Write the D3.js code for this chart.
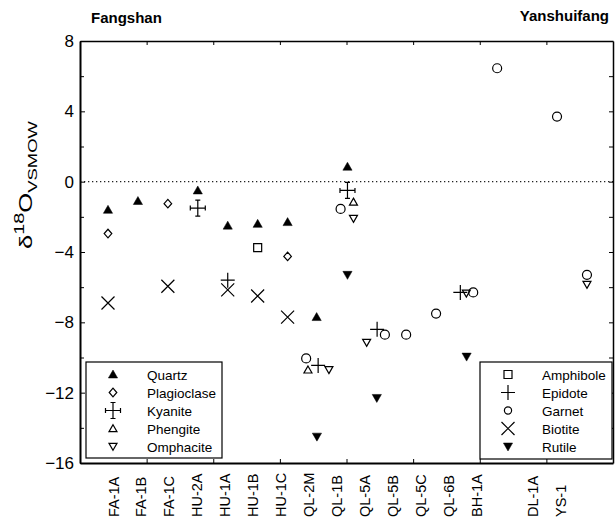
<!DOCTYPE html>
<html>
<head>
<meta charset="utf-8">
<script src="https://d3js.org/d3.v7.min.js"></script>
<style>
  body { margin: 0; background: #fff; }
  text { font-family: Arial, "Liberation Sans", sans-serif; fill: #000; }
  .axis path, .axis line { stroke: #000; fill: none; }
</style>
</head>
<body>
<svg id="chart" width="615" height="520"></svg>
<script>
// sample names along the bottom and their slot numbers
var samples = ["FA-1A","FA-1B","FA-1C","HU-2A","HU-1A","HU-1B","HU-1C","QL-2M",
               "QL-1B","QL-5A","QL-5B","QL-5C","QL-6B","BH-1A","DL-1A","YS-1"];
var samplePos = [1,2,3,4,5,6,7,8,9,10,11,12,13,14,16,17];

var yMajor = [8, 4, 0, -4, -8, -12, -16];
var yMinor = [6, 2, -2, -6, -10, -14];

// [slot (with small nudge as drawn), d18O]
var quartz      = [[1,-1.6],[2,-1.1],[4,-0.5],[5,-2.5],[6,-2.4],[7,-2.3],[7.97,-7.7],[9,0.85]];
var plagioclase = [[1,-2.95],[3,-1.25],[7,-4.25]];
var kyanite     = [[4,-1.5],[9,-0.5]];
var phengite    = [[7.68,-10.7],[9.2,-1.15]];
var omphacite   = [[8.38,-10.7],[9.2,-2.1],[9.64,-9.15],[12.97,-6.35],[17,-5.85]];
var amphibole   = [[6,-3.75]];
var epidote     = [[5,-5.6],[8.02,-10.45],[9.99,-8.4],[12.77,-6.3]];
var garnet      = [[7.62,-10.05],[8.77,-1.55],[10.25,-8.7],[10.96,-8.7],[11.96,-7.5],
                   [13.2,-6.3],[14,6.45],[16,3.7],[17,-5.3]];
var biotite     = [[1,-6.9],[3,-5.95],[5,-6.15],[6,-6.5],[7,-7.7]];
var rutile      = [[7.98,-14.5],[9,-5.3],[9.98,-12.3],[12.98,-9.95]];

var leftLegend = [
  {name:"Quartz", sym:"triUp", data:quartz},
  {name:"Plagioclase", sym:"diamond", data:plagioclase},
  {name:"Kyanite", sym:"kyanite", data:kyanite},
  {name:"Phengite", sym:"openUp", data:phengite},
  {name:"Omphacite", sym:"openDown", data:omphacite}
];
var rightLegend = [
  {name:"Amphibole", sym:"square", data:amphibole},
  {name:"Epidote", sym:"plus", data:epidote},
  {name:"Garnet", sym:"circle", data:garnet},
  {name:"Biotite", sym:"cross", data:biotite},
  {name:"Rutile", sym:"triDown", data:rutile}
];

var margin = {top: 41, left: 80},
    width = 533, height = 422;

var svg = d3.select("#chart");
var g = svg.append("g").attr("transform", "translate(" + margin.left + "," + margin.top + ")");

var x = d3.scaleLinear().domain([0.065, 17.87]).range([0, width]);
var y = d3.scaleLinear().domain([-16, 8]).range([height, 0]);
// sample labels were set a bit tighter than the points
var xLab = d3.scaleLinear().domain([1, 17]).range([113 - margin.left, 560 - margin.left]);

function symPath(type, small) {
  switch (type) {
    case "triUp":   return "M0,-4.5L4.6,3.5L-4.6,3.5Z";
    case "triDown": return "M0,4.5L4.6,-3.5L-4.6,-3.5Z";
    case "openUp":  return "M0,-3.8L4,3.2L-4,3.2Z";
    case "openDown":return "M0,3.8L4,-3.2L-4,-3.2Z";
    case "diamond": return "M0,-4.3L3.8,0L0,4.3L-3.8,0Z";
    case "square":  return "M-4,-4H4V4H-4Z";
    case "circle":
      var r = small ? 3.6 : 4.5;
      return "M" + r + ",0A" + r + "," + r + " 0 1,1 " + (-r) + ",0A" + r + "," + r + " 0 1,1 " + r + ",0Z";
    case "plus":    return "M-7,0H7M0,-7.5V7.5";
    case "cross":   return "M-6.5,-6.5L6.5,6.5M-6.5,6.5L6.5,-6.5";
    case "kyanite": return "M-7.5,0H7.5M0,-8V8M-7.5,-2.5V2.5M7.5,-2.5V2.5M-2.5,-8H2.5M-2.5,8H2.5";
  }
}
function isFilled(type) { return type === "triUp" || type === "triDown"; }

// dotted zero line
g.append("line")
  .attr("x1", 0).attr("x2", width)
  .attr("y1", y(0)).attr("y2", y(0))
  .attr("stroke", "#222").attr("stroke-width", 1.2)
  .attr("stroke-dasharray", "1.3,2.7");

// axes
var tickX = d3.scaleLinear().domain([0, 8]).range([0, width]);

g.append("g").attr("class", "axis")
  .call(d3.axisTop(tickX).tickValues(d3.range(1, 8)).tickSize(-4).tickSizeOuter(0).tickFormat(""))
  .select(".domain").attr("stroke-width", 1.5);

g.append("g").attr("class", "axis").attr("transform", "translate(0," + height + ")")
  .call(d3.axisBottom(tickX).tickValues(d3.range(1, 8)).tickSize(-4).tickSizeOuter(0).tickFormat(""))
  .select(".domain").attr("stroke-width", 2);

g.append("g").attr("class", "axis").attr("transform", "translate(" + width + ",0)")
  .call(d3.axisRight(y).tickValues(yMajor.concat(yMinor)).tickSize(-4).tickSizeOuter(0).tickFormat(""))
  .select(".domain").attr("stroke-width", 1.5);

g.append("g").attr("class", "axis")
  .call(d3.axisLeft(y).tickValues(yMinor).tickSize(-4).tickSizeOuter(0).tickFormat(""))
  .select(".domain").remove();

var yAx = g.append("g").attr("class", "axis")
  .call(d3.axisLeft(y).tickValues(yMajor).tickSize(-5).tickSizeOuter(0).tickPadding(6));
yAx.select(".domain").attr("stroke-width", 2);
yAx.selectAll("text").style("font-size", "17px").attr("font-family", null);

// sample labels
g.selectAll(".slabel")
  .data(samples)
  .enter().append("text")
  .attr("class", "slabel")
  .attr("transform", function(d, i) {
    return "translate(" + (xLab(samplePos[i]) + 5.5) + "," + (517 - margin.top) + ") rotate(-90)";
  })
  .style("font-size", "14.5px")
  .text(function(d) { return d; });

// points
leftLegend.concat(rightLegend).forEach(function(m) {
  g.selectAll(null)
    .data(m.data)
    .enter().append("path")
    .attr("transform", function(d) { return "translate(" + x(d[0]) + "," + y(d[1]) + ")"; })
    .attr("d", symPath(m.sym))
    .attr("fill", isFilled(m.sym) ? "#000" : "none")
    .attr("stroke", "#000")
    .attr("stroke-width", isFilled(m.sym) ? 0.5 : 1.2);
});

// legends
function drawLegend(items, bx, by, bw, bh, sx, tx) {
  var lg = svg.append("g");
  lg.append("rect")
    .attr("x", bx).attr("y", by).attr("width", bw).attr("height", bh)
    .attr("fill", "#fff").attr("stroke", "#000").attr("stroke-width", 1.2);
  items.forEach(function(m, i) {
    var ry = by + 12.5 + i * 18;
    lg.append("path")
      .attr("transform", "translate(" + sx + "," + ry + ")")
      .attr("d", symPath(m.sym, true))
      .attr("fill", isFilled(m.sym) ? "#000" : "none")
      .attr("stroke", "#000")
      .attr("stroke-width", isFilled(m.sym) ? 0.5 : 1.2);
    lg.append("text")
      .attr("x", tx).attr("y", ry + 5)
      .style("font-size", "13.5px")
      .text(m.name);
  });
}
drawLegend(leftLegend, 86, 362, 136, 96, 113, 147);
drawLegend(rightLegend, 480, 362, 132, 97, 508, 542);

// titles
svg.append("text").attr("x", 91).attr("y", 23)
  .style("font-size", "15px").style("font-weight", "bold").text("Fangshan");
svg.append("text").attr("x", 609).attr("y", 21).attr("text-anchor", "end")
  .style("font-size", "15px").style("font-weight", "bold").text("Yanshuifang");

// y title
var yt = svg.append("text")
  .attr("transform", "translate(32,249) rotate(-90) scale(1.42,1)")
  .style("font-size", "18px");
yt.append("tspan").text("\u03b4");
yt.append("tspan").attr("dy", -8).style("font-size", "14px").text("18");
yt.append("tspan").attr("dy", 8).text("O");
yt.append("tspan").attr("dy", 5).style("font-size", "13px").text("VSMOW");
</script>
</body>
</html>
